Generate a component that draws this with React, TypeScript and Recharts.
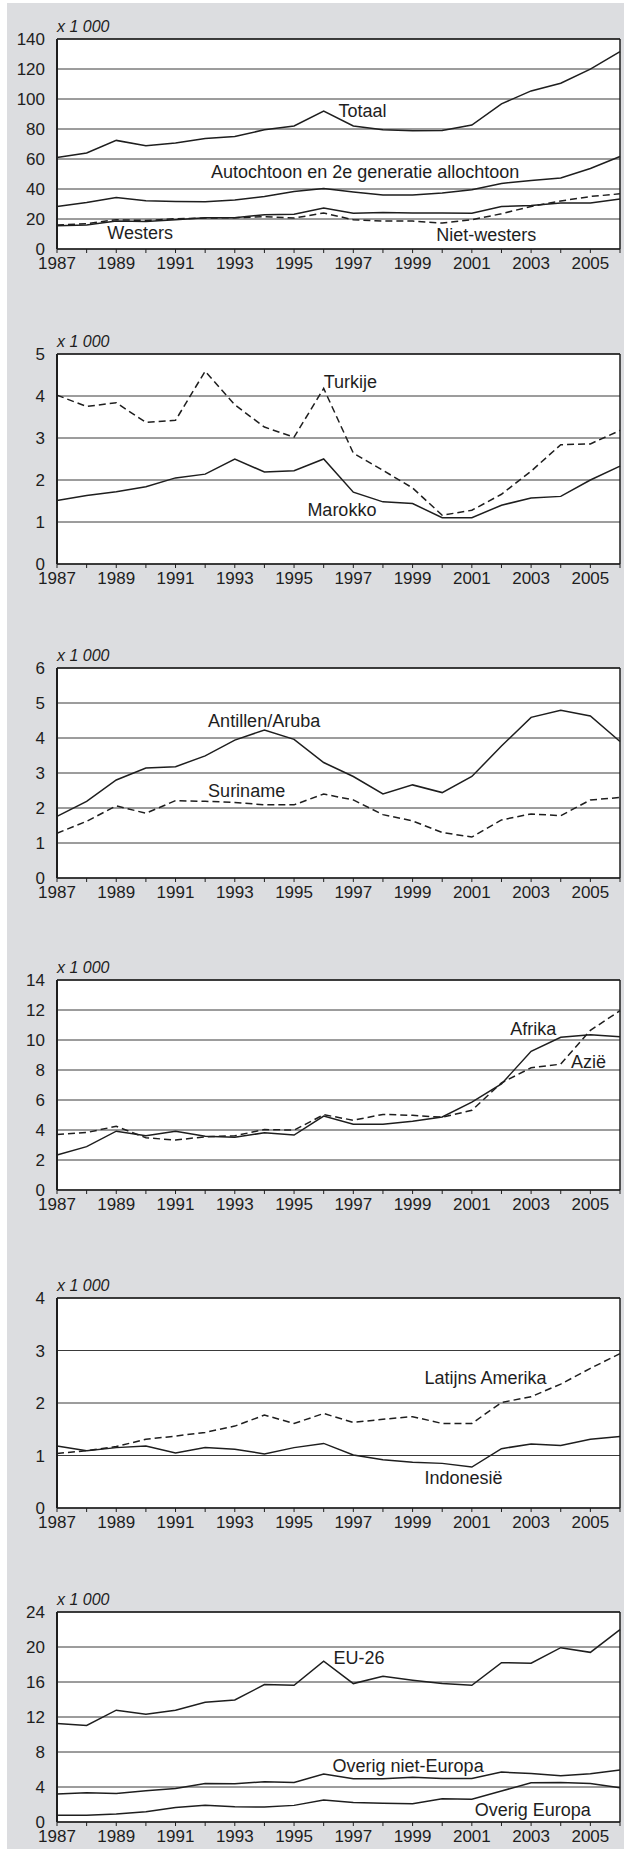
import React from "react";
import {
  LineChart,
  Line,
  XAxis,
  YAxis,
  CartesianGrid,
  ReferenceLine,
  ReferenceDot,
} from "recharts";

const years = [
  1987, 1988, 1989, 1990, 1991, 1992, 1993, 1994, 1995, 1996, 1997, 1998,
  1999, 2000, 2001, 2002, 2003, 2004, 2005, 2006,
];

// panel 1
const totaal = [61, 64, 72.4, 68.8, 70.6, 73.7, 75, 79.5, 82, 92, 82, 79.5, 78.8, 79, 82.6, 96.8, 105.4, 110.5, 119.9, 131.6];
const autochtoon = [28.4, 31, 34.4, 32.2, 31.7, 31.5, 32.6, 35, 38.4, 40.4, 38, 36, 36, 37.3, 39.5, 43.7, 45.7, 47.3, 53.7, 61.7];
const westers = [15.5, 16, 18.6, 18.4, 19.5, 20.9, 20.9, 22.9, 23.1, 27.3, 23.8, 24.4, 24, 24, 23.8, 28.4, 29, 30.6, 30.6, 33.3];
const nietWesters = [16, 16.9, 19.5, 19, 20.2, 20.6, 20.9, 21.5, 20.6, 24, 19.5, 18.6, 18.6, 17.3, 19.5, 23.5, 28.4, 32, 35, 36.8];
const ticks1 = [0, 20, 40, 60, 80, 100, 120, 140];

// panel 2
const turkije = [4.02, 3.75, 3.84, 3.37, 3.42, 4.59, 3.79, 3.26, 3.02, 4.18, 2.64, 2.23, 1.81, 1.16, 1.28, 1.66, 2.21, 2.84, 2.86, 3.18];
const marokko = [1.51, 1.63, 1.72, 1.84, 2.05, 2.14, 2.5, 2.19, 2.22, 2.5, 1.71, 1.48, 1.44, 1.1, 1.1, 1.4, 1.57, 1.61, 2.0, 2.33];
const ticks2 = [0, 1, 2, 3, 4, 5];

// panel 3
const antillen = [1.76, 2.19, 2.8, 3.14, 3.18, 3.49, 3.94, 4.23, 3.96, 3.3, 2.9, 2.4, 2.66, 2.44, 2.9, 3.77, 4.59, 4.79, 4.63, 3.9];
const suriname = [1.28, 1.62, 2.06, 1.85, 2.21, 2.19, 2.16, 2.09, 2.09, 2.4, 2.23, 1.81, 1.63, 1.3, 1.17, 1.66, 1.83, 1.78, 2.23, 2.3];
const ticks3 = [0, 1, 2, 3, 4, 5, 6];

// panel 4
const afrika = [2.33, 2.89, 3.92, 3.61, 3.92, 3.59, 3.52, 3.81, 3.66, 4.93, 4.38, 4.38, 4.58, 4.87, 5.86, 7.07, 9.25, 10.18, 10.35, 10.22];
const azie = [3.7, 3.83, 4.25, 3.48, 3.33, 3.55, 3.61, 4.03, 3.99, 5.02, 4.65, 5.04, 4.98, 4.85, 5.31, 7.14, 8.15, 8.39, 10.64, 11.96];
const ticks4 = [0, 2, 4, 6, 8, 10, 12, 14];

// panel 5
const latijnsAmerika = [1.04, 1.09, 1.17, 1.31, 1.37, 1.44, 1.56, 1.77, 1.61, 1.8, 1.63, 1.69, 1.74, 1.61, 1.61, 2.01, 2.12, 2.36, 2.66, 2.94];
const indonesie = [1.18, 1.09, 1.15, 1.18, 1.05, 1.15, 1.12, 1.03, 1.15, 1.23, 1.01, 0.92, 0.87, 0.85, 0.78, 1.13, 1.22, 1.19, 1.31, 1.36];
const ticks5 = [0, 1, 2, 3, 4];

// panel 6
const eu26 = [11.25, 11.03, 12.78, 12.32, 12.78, 13.69, 13.95, 15.7, 15.63, 18.37, 15.82, 16.65, 16.2, 15.82, 15.63, 18.21, 18.14, 19.92, 19.39, 21.98];
const overigNietEuropa = [3.19, 3.35, 3.27, 3.57, 3.84, 4.41, 4.37, 4.6, 4.52, 5.48, 4.94, 4.94, 5.1, 4.98, 4.98, 5.7, 5.55, 5.29, 5.51, 5.93];
const overigEuropa = [0.76, 0.76, 0.91, 1.18, 1.67, 1.9, 1.75, 1.71, 1.9, 2.51, 2.24, 2.13, 2.09, 2.66, 2.59, 3.54, 4.49, 4.52, 4.41, 3.92];
const ticks6 = [0, 4, 8, 12, 16, 20, 24];

type Series = { key: string; values: number[]; dashed?: boolean };
type Note = { text: string; x: number; y: number };
type Panel = { top: number; ticks: number[]; series: Series[]; notes: Note[] };

const panels: Panel[] = [
  {
    top: 6,
    ticks: ticks1,
    series: [
      { key: "totaal", values: totaal },
      { key: "autochtoon", values: autochtoon },
      { key: "westers", values: westers },
      { key: "nietWesters", values: nietWesters, dashed: true },
    ],
    notes: [
      { text: "Totaal", x: 1996.5, y: 92 },
      { text: "Autochtoon en 2e generatie allochtoon", x: 1992.2, y: 51.3 },
      { text: "Westers", x: 1988.7, y: 10.7 },
      { text: "Niet-westers", x: 1999.8, y: 9.5 },
    ],
  },
  {
    top: 321,
    ticks: ticks2,
    series: [
      { key: "turkije", values: turkije, dashed: true },
      { key: "marokko", values: marokko },
    ],
    notes: [
      { text: "Turkije", x: 1996, y: 4.34 },
      { text: "Marokko", x: 1995.45, y: 1.29 },
    ],
  },
  {
    top: 635,
    ticks: ticks3,
    series: [
      { key: "antillen", values: antillen },
      { key: "suriname", values: suriname, dashed: true },
    ],
    notes: [
      { text: "Antillen/Aruba", x: 1992.1, y: 4.49 },
      { text: "Suriname", x: 1992.1, y: 2.49 },
    ],
  },
  {
    top: 947,
    ticks: ticks4,
    series: [
      { key: "afrika", values: afrika },
      { key: "azie", values: azie, dashed: true },
    ],
    notes: [
      { text: "Afrika", x: 2002.3, y: 10.77 },
      { text: "Azië", x: 2004.35, y: 8.57 },
    ],
  },
  {
    top: 1265,
    ticks: ticks5,
    series: [
      { key: "latijnsAmerika", values: latijnsAmerika, dashed: true },
      { key: "indonesie", values: indonesie },
    ],
    notes: [
      { text: "Latijns Amerika", x: 1999.4, y: 2.49 },
      { text: "Indonesië", x: 1999.4, y: 0.58 },
    ],
  },
  {
    top: 1579,
    ticks: ticks6,
    series: [
      { key: "eu26", values: eu26 },
      { key: "overigNietEuropa", values: overigNietEuropa },
      { key: "overigEuropa", values: overigEuropa },
    ],
    notes: [
      { text: "EU-26", x: 1996.33, y: 18.75 },
      { text: "Overig niet-Europa", x: 1996.3, y: 6.39 },
      { text: "Overig Europa", x: 2001.1, y: 1.44 },
    ],
  },
];

const INK = "#1e1e1e";

// "x 1 000" above the value axis
const UnitLabel = (props: any) => {
  const vb = props.viewBox || {};
  return (
    <text
      x={vb.x + vb.width}
      y={vb.y - 7}
      fontSize={16}
      fontStyle="italic"
      fill={INK}
    >
      x 1 000
    </text>
  );
};

function PanelChart({ panel }: { panel: Panel }) {
  const max = panel.ticks[panel.ticks.length - 1];
  const data = years.map((year, i) => {
    const row: any = { year };
    panel.series.forEach((s) => {
      row[s.key] = s.values[i];
    });
    return row;
  });

  return (
    <div style={{ position: "absolute", left: 0, top: panel.top }}>
      <LineChart
        width={617}
        height={275}
        data={data}
        margin={{ top: 30, right: 4, bottom: 5, left: 0 }}
      >
        <CartesianGrid vertical={false} fill="#fff" stroke="#3a3a3a" strokeWidth={1} />
        <XAxis
          dataKey="year"
          type="number"
          domain={[1987, 2006]}
          ticks={years}
          interval={0}
          tickFormatter={(v) => (v % 2 === 1 ? String(v) : "")}
          height={30}
          tickSize={4}
          tickMargin={4}
          axisLine={{ stroke: INK, strokeWidth: 1.5 }}
          tickLine={{ stroke: INK }}
          tick={{ fill: INK, fontSize: 17 }}
        />
        <YAxis
          type="number"
          domain={[0, max]}
          ticks={panel.ticks}
          interval={0}
          width={50}
          tickLine={false}
          tickSize={0}
          tickMargin={12}
          axisLine={{ stroke: INK, strokeWidth: 2 }}
          tick={{ fill: INK, fontSize: 17 }}
          label={{ content: UnitLabel }}
        />
        <ReferenceLine y={max} stroke={INK} strokeWidth={1.5} />
        <ReferenceLine x={2006} stroke={INK} strokeWidth={1.5} />
        {panel.series.map((s) => (
          <Line
            key={s.key}
            dataKey={s.key}
            type="linear"
            stroke={INK}
            strokeWidth={1.5}
            strokeDasharray={s.dashed ? "7 4" : undefined}
            dot={false}
            activeDot={false}
            isAnimationActive={false}
          />
        ))}
        {panel.notes.map((n) => (
          <ReferenceDot
            key={n.text}
            x={n.x}
            y={n.y}
            r={0}
            fill="none"
            stroke="none"
            ifOverflow="visible"
            label={{
              value: n.text,
              position: "right",
              offset: 0,
              fontSize: 18,
              fill: INK,
            }}
          />
        ))}
      </LineChart>
    </div>
  );
}

export default function App() {
  return (
    <>
      <style>{"body{margin:0}"}</style>
      <div
        style={{
          position: "absolute",
          left: 7,
          top: 3,
          width: 617,
          height: 1846,
          background: "#dcdde0",
          overflow: "hidden",
          fontFamily: "'Liberation Sans', Arial, sans-serif",
        }}
      >
        {panels.map((p, i) => (
          <PanelChart key={i} panel={p} />
        ))}
      </div>
    </>
  );
}
